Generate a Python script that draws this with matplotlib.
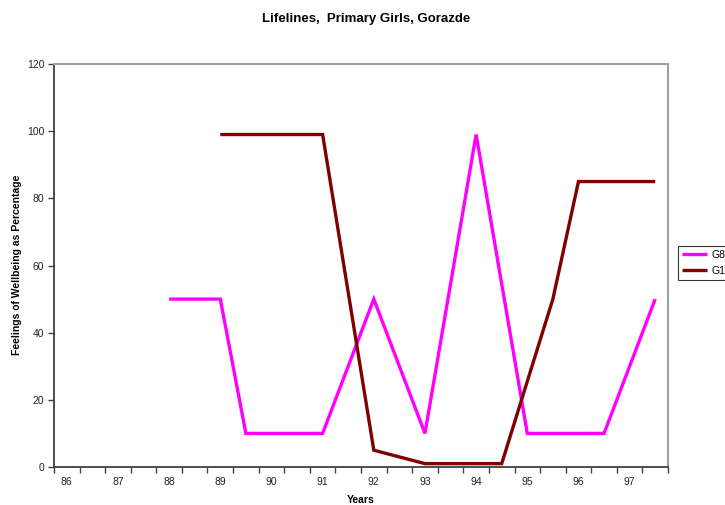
import numpy as np
import matplotlib
matplotlib.use("Agg")
import matplotlib.pyplot as plt

plt.rcParams['font.family'] = ['Liberation Sans', 'DejaVu Sans']

# Half-year categories from 86 to 97.5
years = ['86', '86.5', '87', '87.5', '88', '88.5', '89', '89.5', '90', '90.5',
         '91', '91.5', '92', '92.5', '93', '93.5', '94', '94.5', '95', '95.5',
         '96', '96.5', '97', '97.5']
tick_labels = ['86', '87', '88', '89', '90', '91', '92', '93', '94', '95', '96', '97']

nan = np.nan
g8 = [nan, nan, nan, nan, 50, nan, 50, 10, nan, nan,
      10, nan, 50, nan, 10, nan, 99, nan, 10, nan,
      nan, 10, nan, 50]
g10 = [nan, nan, nan, nan, nan, nan, 99, nan, nan, nan,
       99, nan, 5, nan, 1, nan, nan, 1, nan, 50,
       85, nan, nan, 85]

fig = plt.figure(figsize=(7.25, 5.05), dpi=100)
ax = fig.add_axes([54 / 725, 1 - 467 / 505, (668 - 54) / 725, (467 - 64) / 505])

x = np.arange(len(years))


def plot_series(vals, color, label):
    v = np.array(vals, dtype=float)
    m = ~np.isnan(v)
    ax.plot(x[m], v[m], color=color, lw=2.4, label=label,
            solid_joinstyle='miter', solid_capstyle='butt')


plot_series(g8, '#FF00FF', 'G8')
plot_series(g10, '#800000', 'G10')

ax.set_xlim(-0.5, len(years) - 0.5)
ax.set_ylim(0, 120)
ax.set_yticks(np.arange(0, 121, 20))

# Tick marks on category boundaries, labels on every other category
ax.set_xticks(np.arange(-0.5, len(years), 1.0))
ax.set_xticklabels([])
ax.set_xticks(np.arange(0, len(years), 2), minor=True)
ax.set_xticklabels(tick_labels, minor=True)
ax.tick_params(axis='x', which='major', length=4, width=1, color='#404040', direction='out')
ax.tick_params(axis='x', which='minor', length=0, pad=7, labelsize=7.5, labelcolor='#222222')
ax.tick_params(axis='y', length=4, width=1, color='#404040', direction='out',
               labelsize=7.5, labelcolor='#222222', pad=3)

for side in ('left', 'bottom'):
    ax.spines[side].set_color('#404040')
    ax.spines[side].set_linewidth(1.3)
for side in ('top', 'right'):
    ax.spines[side].set_color('#a0a0a0')
    ax.spines[side].set_linewidth(1.5)

fig.text(366 / 725, 1 - 19 / 505, 'Lifelines,  Primary Girls, Gorazde',
         ha='center', va='center', fontsize=9.5, fontweight='bold')
fig.text(361 / 725, 1 - 500 / 505, 'Years', ha='center', va='center',
         fontsize=7.5, fontweight='bold')
fig.text(17 / 725, 1 - 265 / 505, 'Feelings of Wellbeing as Percentage',
         ha='center', va='center', rotation=90, fontsize=7.5, fontweight='bold')

leg = fig.legend(loc='upper left', bbox_to_anchor=(678 / 725, 1 - 245.5 / 505),
                 fontsize=7.5, frameon=True, fancybox=False, handlelength=2.4,
                 handletextpad=0.4, borderpad=0.4, labelspacing=0.6,
                 borderaxespad=0)
leg.get_frame().set_edgecolor('#000000')
leg.get_frame().set_linewidth(0.8)

fig.savefig('out.png', dpi=100, facecolor='white')
